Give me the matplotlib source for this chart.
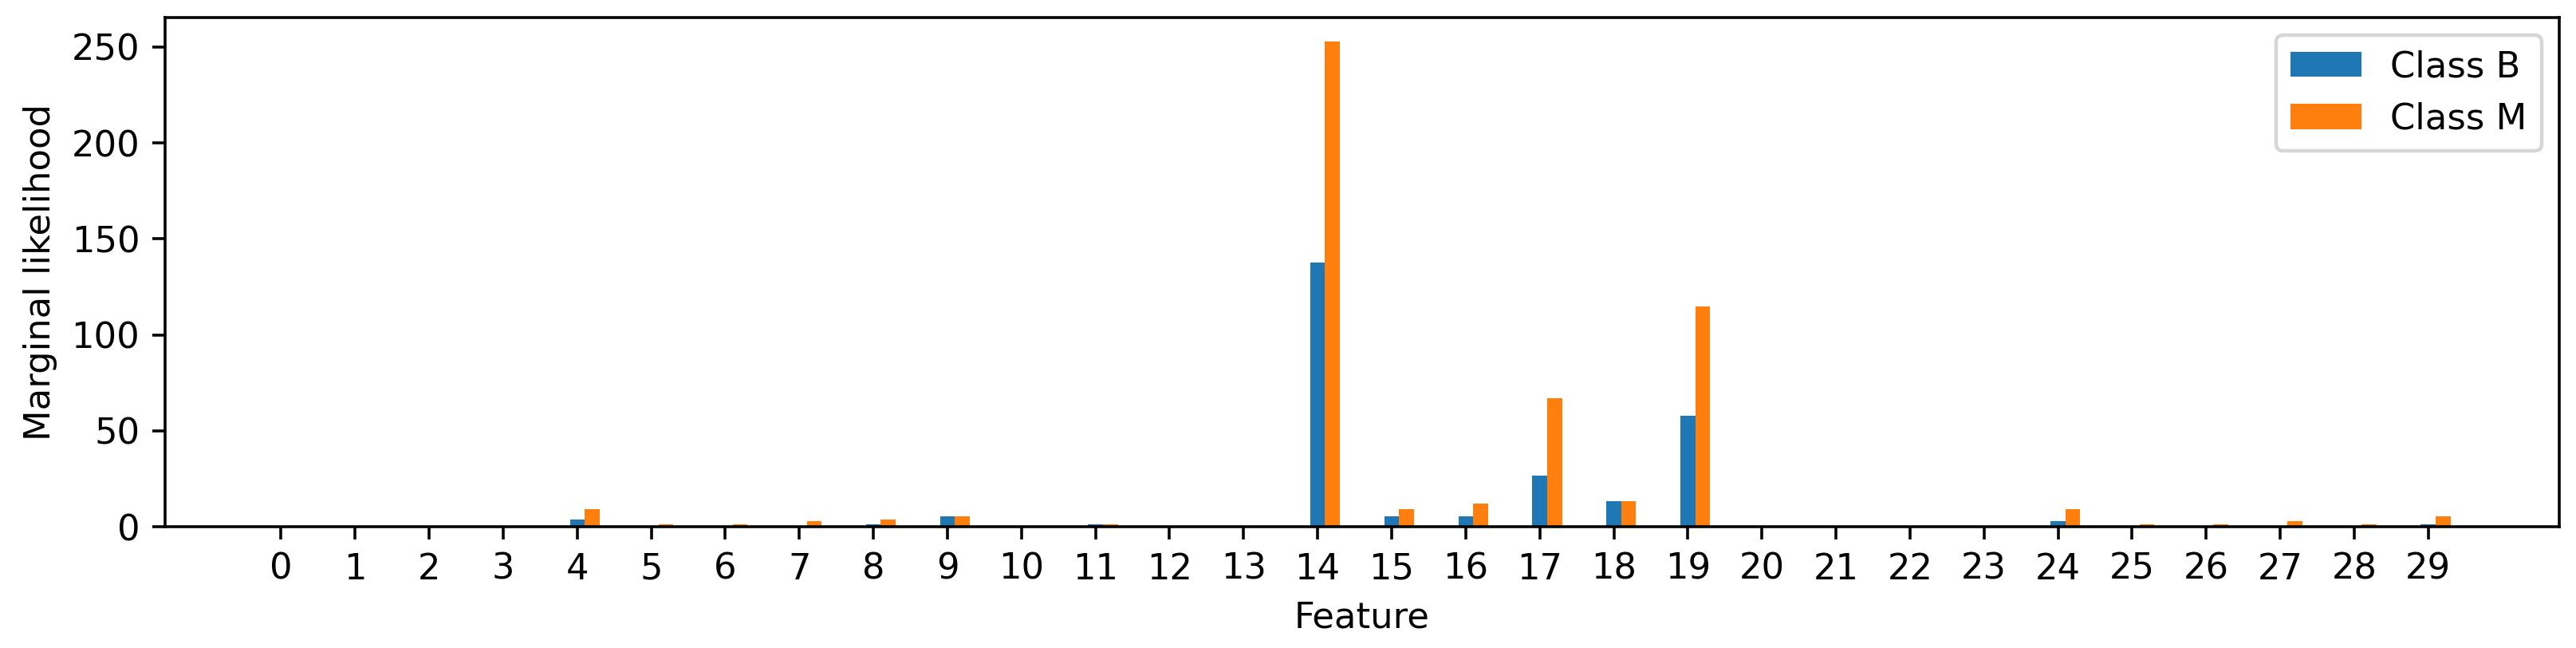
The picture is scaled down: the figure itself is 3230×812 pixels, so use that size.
import numpy as np
import matplotlib
matplotlib.use("Agg")
import matplotlib.pyplot as plt

# marginal likelihood per feature
features = list(range(30))
class_b = [0, 0, 0, 0, 4.0, 0, 0, 0, 1.4, 5.3,
           0, 1.4, 0, 0, 137.7, 5.3, 5.3, 26.8, 13.4, 57.7,
           0, 0, 0, 0, 2.8, 0, 0, 0, 0, 1.5]
class_m = [0, 0, 0, 0, 9.4, 1.5, 1.5, 2.8, 4.0, 5.3,
           0, 1.4, 0, 0, 252.7, 9.3, 12.0, 66.8, 13.4, 115.0,
           0, 0, 0, 0, 9.4, 1.5, 1.5, 2.8, 1.5, 5.3]

x = np.arange(len(features))
w = 0.2
dpi = 323

fig, ax = plt.subplots(figsize=(3230 / dpi, 812 / dpi), dpi=dpi)
ax.bar(x, class_b, width=w, label="Class B")
ax.bar(x + w, class_m, width=w, label="Class M")
ax.set_xticks(x)
ax.set_xticklabels([str(f) for f in features])
ax.set_xlabel("Feature")
ax.set_ylabel("Marginal likelihood")
ax.legend(loc="upper right")

fig.subplots_adjust(left=0.064, right=0.9935, top=0.973, bottom=0.187)
fig.savefig("out.png", dpi=dpi)
